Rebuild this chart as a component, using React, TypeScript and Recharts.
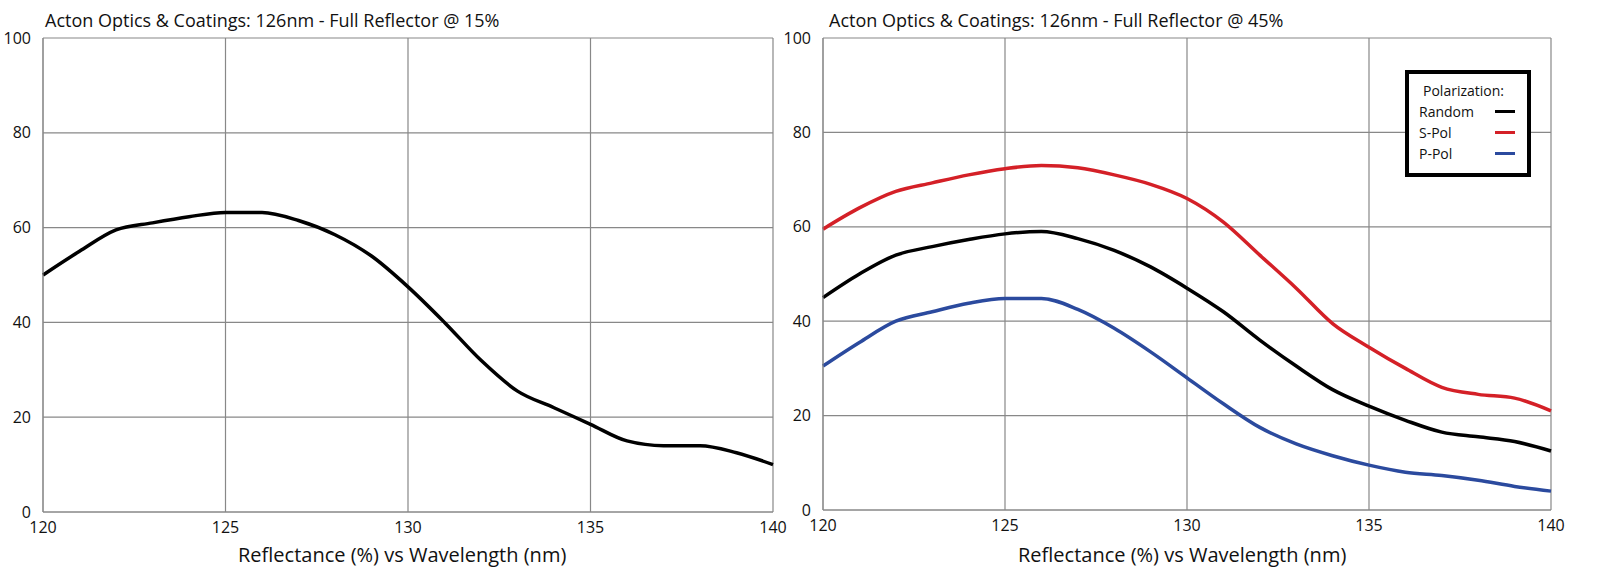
import React from 'react';
import { LineChart, Line, XAxis, YAxis, CartesianGrid } from 'recharts';

const wavelengths = [120,121,122,123,124,125,126,127,128,129,130,131,132,133,134,135,136,137,138,139,140];
const random15 = [50,55,59.5,61,62.3,63.2,63.2,61.5,58.5,54,47.5,40,32,25.5,22,18.5,15,14,14,12.5,10];
const random45 = [45,50,54,55.8,57.3,58.5,59,57.5,55,51.5,47,42,36,30.5,25.5,22,19,16.5,15.5,14.5,12.5];
const spol45 = [59.5,64,67.5,69.3,71,72.3,73,72.5,71,69,66,61,54,47,39.5,34.5,30,26,24.5,23.7,21];
const ppol45 = [30.5,35.5,40,42,43.8,44.8,44.8,42.5,38.5,33.5,28,22.5,17.5,14,11.5,9.5,8,7.3,6.3,5,4];
const xTicks = [120,125,130,135,140];
const yTicks = [0,20,40,60,80,100];

const data1 = wavelengths.map((w,i)=>({w, r: random15[i]}));
const data2 = wavelengths.map((w,i)=>({w, r: random45[i], s: spol45[i], p: ppol45[i]}));

const font = '"Open Sans", "Noto Sans", sans-serif';
const tick = { fill: '#111', fontSize: 16, fontFamily: font };

const txt = (s: string, left: number, top: number, size: number, extra: any = {}) => (
  <div style={{position:'absolute', left, top, fontSize:size, fontFamily:font, color:'#111', whiteSpace:'nowrap', ...extra}}>{s}</div>
);

export default function App() {
  return (
    <div style={{position:'absolute', left:0, top:0, width:1599, height:587, background:'#fff'}}>
      <div style={{position:'absolute', left:0, top:0}}>
        <LineChart width={800} height={587} data={data1} margin={{top:38,right:27,left:0,bottom:45}}>
          <CartesianGrid stroke="#888" strokeWidth={1.2} />
          <XAxis dataKey="w" type="number" domain={[120,140]} ticks={xTicks} tick={tick} tickLine={false} axisLine={{stroke:'#888'}} height={30} tickMargin={4} />
          <YAxis type="number" domain={[0,100]} ticks={yTicks} tick={tick} tickLine={false} axisLine={{stroke:'#888'}} width={43} tickMargin={6} />
          <Line dataKey="r" type="monotone" stroke="#000" strokeWidth={3.5} dot={false} isAnimationActive={false} />
        </LineChart>
      </div>
      <div style={{position:'absolute', left:780, top:0}}>
        <LineChart width={819} height={587} data={data2} margin={{top:38,right:48,left:0,bottom:47}}>
          <CartesianGrid stroke="#888" strokeWidth={1.2} />
          <XAxis dataKey="w" type="number" domain={[120,140]} ticks={xTicks} tick={tick} tickLine={false} axisLine={{stroke:'#888'}} height={30} tickMargin={4} />
          <YAxis type="number" domain={[0,100]} ticks={yTicks} tick={tick} tickLine={false} axisLine={{stroke:'#888'}} width={43} tickMargin={6} />
          <Line dataKey="s" type="monotone" stroke="#d42027" strokeWidth={3.5} dot={false} isAnimationActive={false} />
          <Line dataKey="r" type="monotone" stroke="#000" strokeWidth={3.5} dot={false} isAnimationActive={false} />
          <Line dataKey="p" type="monotone" stroke="#2b4a9e" strokeWidth={3.5} dot={false} isAnimationActive={false} />
        </LineChart>
      </div>
      {txt('Acton Optics & Coatings: 126nm - Full Reflector @ 15%', 45, 8, 18)}
      {txt('Acton Optics & Coatings: 126nm - Full Reflector @ 45%', 829, 8, 18)}
      {txt('Reflectance (%) vs Wavelength (nm)', 238, 541, 20)}
      {txt('Reflectance (%) vs Wavelength (nm)', 1018, 541, 20)}
      <div style={{position:'absolute', left:1405, top:70, width:126, height:107, border:'4px solid #000', background:'#fff', fontFamily:font, fontSize:14, color:'#111', lineHeight:'21px', padding:'6px 0 0 10px', boxSizing:'border-box'}}>
        <div style={{paddingLeft:4}}>Polarization:</div>
        {[['Random','#000'],['S-Pol','#d42027'],['P-Pol','#2b4a9e']].map(([n,c])=>(
          <div key={n} style={{display:'flex', alignItems:'center'}}>
            <span style={{width:76}}>{n}</span>
            <span style={{display:'inline-block', width:20, height:3, background:c}} />
          </div>
        ))}
      </div>
    </div>
  );
}
